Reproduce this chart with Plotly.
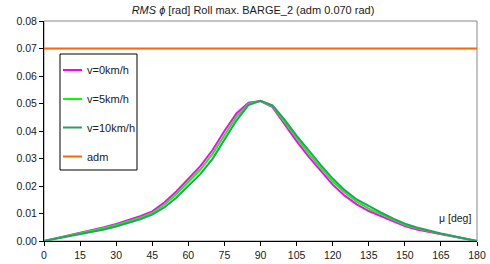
import plotly.graph_objects as go

mu_deg = [0, 5, 10, 15, 20, 25, 30, 35, 40, 45, 50, 55, 60, 65, 70, 75, 80, 85, 90,
          95, 100, 105, 110, 115, 120, 125, 130, 135, 140, 145, 150, 155, 160, 165, 170, 175, 180]

v0 = [0, 0.0010, 0.0020, 0.0029, 0.0039, 0.0050, 0.0062, 0.0075, 0.0090, 0.0108, 0.0140, 0.0180,
      0.0226, 0.0272, 0.0330, 0.0400, 0.0464, 0.0503, 0.0509,
      0.0487, 0.0425, 0.0363, 0.0307, 0.0255, 0.0205, 0.0165, 0.0133, 0.0109, 0.0090, 0.0070,
      0.0054, 0.0042, 0.0033, 0.0025, 0.0016, 0.0008, 0]

v5 = [0, 0.0009, 0.0018, 0.0027, 0.0036, 0.0047, 0.0058, 0.0071, 0.0085, 0.0102, 0.0132, 0.0170,
      0.0215, 0.0260, 0.0316, 0.0385, 0.0452, 0.0499, 0.0510,
      0.0490, 0.0433, 0.0373, 0.0318, 0.0267, 0.0216, 0.0176, 0.0143, 0.0118, 0.0098, 0.0077,
      0.0059, 0.0046, 0.0035, 0.0026, 0.0017, 0.0008, 0]

v10 = [0, 0.0008, 0.0016, 0.0024, 0.0032, 0.0042, 0.0053, 0.0065, 0.0079, 0.0096, 0.0122, 0.0157,
       0.0199, 0.0243, 0.0298, 0.0366, 0.0438, 0.0494, 0.0510,
       0.0493, 0.0441, 0.0383, 0.0328, 0.0277, 0.0227, 0.0185, 0.0151, 0.0126, 0.0104, 0.0082,
       0.0063, 0.0049, 0.0037, 0.0027, 0.0018, 0.0009, 0]

adm_x = [0, 180]
adm = [0.07, 0.07]

series_names = ["v=0km/h", "v=5km/h", "v=10km/h", "adm"]
series_colors = ["#FF00FF", "#00FF00", "#339966", "#FF6600"]

x_ticks = list(range(0, 181, 15))
y_ticks = [0.00, 0.01, 0.02, 0.03, 0.04, 0.05, 0.06, 0.07, 0.08]

FONT = "Liberation Sans, Arial, sans-serif"
TXT = "#1a1a1a"

W, H = 490, 264
ML, MR, MT, MB = 44, 13, 21, 23
PW, PH = W - ML - MR, H - MT - MB


def px_x(p):
    return (p - ML) / PW


def px_y(p):
    return (H - MB - p) / PH


fig = go.Figure()
data_x = [mu_deg, mu_deg, mu_deg, adm_x]
data_y = [v0, v5, v10, adm]
for name, col, xs, ys in zip(series_names, series_colors, data_x, data_y):
    fig.add_trace(go.Scatter(x=xs, y=ys, mode="lines", name=name,
                             line=dict(color=col, width=2), showlegend=False))

axis_common = dict(showgrid=False, zeroline=False, ticks="outside", ticklen=4,
                   tickcolor="black", tickwidth=1, showline=True, linecolor="black",
                   linewidth=1, automargin=False,
                   tickfont=dict(family=FONT, size=10.5, color=TXT))

# manual legend box built from series names/colours
shapes = [dict(type="rect", xref="paper", yref="paper", x0=0, x1=1, y0=0, y1=1,
               line=dict(color="#888", width=1), layer="below"),
          dict(type="rect", xref="paper", yref="paper",
               x0=px_x(60), x1=px_x(137), y0=px_y(170), y1=px_y(54),
               line=dict(color="black", width=1), fillcolor="white", layer="above")]
annotations = [dict(text="μ [deg]", x=178.3, y=0.0084, xref="x", yref="y",
                    xanchor="right", yanchor="middle", showarrow=False,
                    font=dict(family=FONT, size=10.5, color=TXT))]
entry_y = [70, 99, 127.5, 156.5]
for name, col, ey in zip(series_names, series_colors, entry_y):
    shapes.append(dict(type="line", xref="paper", yref="paper",
                       x0=px_x(63), x1=px_x(82), y0=px_y(ey), y1=px_y(ey),
                       line=dict(color=col, width=2), layer="above"))
    annotations.append(dict(text=name, xref="paper", yref="paper",
                            x=px_x(84.5), y=px_y(ey), xanchor="left", yanchor="middle",
                            showarrow=False, font=dict(family=FONT, size=11, color=TXT)))

fig.update_layout(
    width=W, height=H,
    margin=dict(l=ML, r=MR, t=MT, b=MB),
    paper_bgcolor="white", plot_bgcolor="white",
    font=dict(family=FONT, size=10.5, color=TXT),
    showlegend=False,
    title=dict(text="<i>RMS ϕ</i> [rad] Roll max. BARGE_2 (adm 0.070 rad)",
               x=253 / W, xanchor="center", y=1 - 10 / H, yanchor="middle",
               font=dict(family=FONT, size=11, color=TXT)),
    xaxis=dict(range=[0, 180], tickvals=x_ticks, ticktext=[str(t) for t in x_ticks], **axis_common),
    yaxis=dict(range=[0, 0.08], tickvals=y_ticks, ticktext=[f"{t:.2f}" for t in y_ticks], **axis_common),
    xaxis2=dict(range=[0, 180], tickvals=x_ticks, overlaying="x", anchor="y", side="bottom",
                ticks="inside", ticklen=4, tickcolor="black", showticklabels=False,
                showgrid=False, zeroline=False, showline=False, automargin=False),
    yaxis2=dict(range=[0, 0.08], tickvals=y_ticks, overlaying="y", anchor="x", side="left",
                ticks="inside", ticklen=4, tickcolor="black", showticklabels=False,
                showgrid=False, zeroline=False, showline=False, automargin=False),
    shapes=shapes,
    annotations=annotations,
)

fig.write_html("out.html", config={"displayModeBar": False},
               post_script="document.body.style.margin='0';document.body.style.padding='0';")
